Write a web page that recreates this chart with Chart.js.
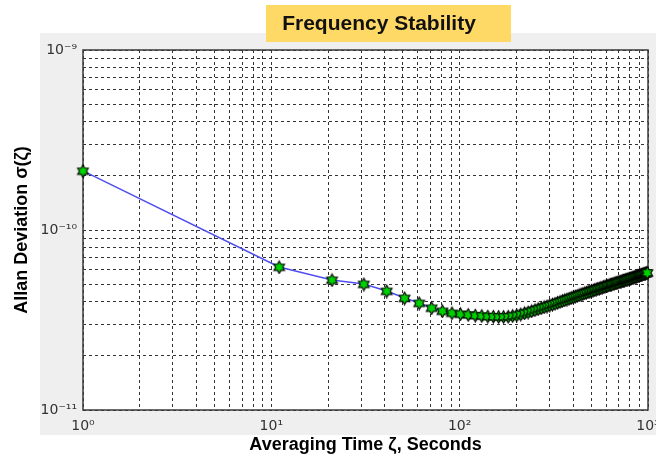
<!DOCTYPE html>
<html><head><meta charset="utf-8">
<script src="https://cdn.jsdelivr.net/npm/chart.js@4.4.1/dist/chart.umd.min.js"></script>
<style>html,body{margin:0;padding:0;background:#fff;overflow:hidden}#wrap{position:relative;width:656px;height:457px}</style>
</head><body><div id="wrap"><canvas id="c" width="656" height="457"></canvas></div>
<script>
// Averaging time tau (s)
const tau = [
  1, 11, 21, 31, 41, 51, 61, 71, 81, 91,
  101, 111, 121, 131, 141, 151, 161, 171, 181, 191,
  201, 211, 221, 231, 241, 251, 261, 271, 281, 291,
  301, 311, 321, 331, 341, 351, 361, 371, 381, 391,
  401, 411, 421, 431, 441, 451, 461, 471, 481, 491,
  501, 511, 521, 531, 541, 551, 561, 571, 581, 591,
  601, 611, 621, 631, 641, 651, 661, 671, 681, 691,
  701, 711, 721, 731, 741, 751, 761, 771, 781, 791,
  801, 811, 821, 831, 841, 851, 861, 871, 881, 891,
  901, 911, 921, 931, 941, 951, 961, 971, 981, 991
];
// Allan deviation sigma(tau)
const sigma = [
  2.13e-10, 6.23e-11, 5.28e-11, 5.01e-11, 4.58e-11, 4.19e-11, 3.93e-11, 3.69e-11, 3.55e-11, 3.46e-11,
  3.42e-11, 3.39e-11, 3.36e-11, 3.34e-11, 3.32e-11, 3.31e-11, 3.30e-11, 3.30e-11, 3.31e-11, 3.34e-11,
  3.37e-11, 3.41e-11, 3.46e-11, 3.50e-11, 3.55e-11, 3.60e-11, 3.65e-11, 3.69e-11, 3.74e-11, 3.78e-11,
  3.83e-11, 3.87e-11, 3.91e-11, 3.96e-11, 4.00e-11, 4.05e-11, 4.09e-11, 4.13e-11, 4.17e-11, 4.21e-11,
  4.25e-11, 4.29e-11, 4.32e-11, 4.36e-11, 4.40e-11, 4.43e-11, 4.47e-11, 4.50e-11, 4.54e-11, 4.57e-11,
  4.60e-11, 4.63e-11, 4.66e-11, 4.70e-11, 4.73e-11, 4.75e-11, 4.78e-11, 4.81e-11, 4.84e-11, 4.87e-11,
  4.90e-11, 4.92e-11, 4.95e-11, 4.98e-11, 5.00e-11, 5.03e-11, 5.06e-11, 5.08e-11, 5.10e-11, 5.13e-11,
  5.15e-11, 5.18e-11, 5.20e-11, 5.23e-11, 5.25e-11, 5.27e-11, 5.30e-11, 5.32e-11, 5.34e-11, 5.36e-11,
  5.39e-11, 5.41e-11, 5.43e-11, 5.46e-11, 5.48e-11, 5.50e-11, 5.52e-11, 5.55e-11, 5.57e-11, 5.59e-11,
  5.61e-11, 5.63e-11, 5.66e-11, 5.68e-11, 5.70e-11, 5.72e-11, 5.74e-11, 5.76e-11, 5.78e-11, 5.80e-11
];
const xTickValues = [1, 10, 100, 1000];
const xTickLabels = ['10⁰', '10¹', '10²', '10³'];
const yTickValues = [1e-11, 1e-10, 1e-9];
const yTickLabels = ['10⁻¹¹', '10⁻¹⁰', '10⁻⁹'];
const chartTitle = 'Frequency Stability';
const xAxisTitle = 'Averaging Time ζ, Seconds';
const yAxisTitle = 'Allan Deviation σ(ζ)';

const FONT = "'Liberation Sans', Arial, 'DejaVu Sans', sans-serif";
const TICK_FONT = "'DejaVu Sans', 'Liberation Sans', Arial, sans-serif";

function logGrid(lo, hi) {
  const out = [];
  for (let e = lo; e < hi; e++) for (let m = 1; m < 10; m++) out.push(m * Math.pow(10, e));
  out.push(Math.pow(10, hi));
  return out;
}
function labelFor(values, labels) {
  return (v) => {
    const i = values.findIndex(t => Math.abs(t - v) / t < 1e-6);
    return i >= 0 ? labels[i] : '';
  };
}

// hexagram marker
function makeMarker() {
  const c = document.createElement('canvas');
  c.width = 15; c.height = 15;
  const g = c.getContext('2d');
  const cx = 7.5, cy = 7.8, R = 6.2, r = R / Math.sqrt(3);
  g.beginPath();
  for (let k = 0; k < 12; k++) {
    const a = -Math.PI / 2 + k * Math.PI / 6;
    const rr = k % 2 === 0 ? R : r;
    const px = cx + rr * Math.cos(a), py = cy + rr * Math.sin(a);
    if (k === 0) g.moveTo(px, py); else g.lineTo(px, py);
  }
  g.closePath();
  g.fillStyle = '#00d000';
  g.fill();
  g.lineWidth = 1.1;
  g.strokeStyle = '#000';
  g.stroke();
  return c;
}

const decor = {
  id: 'decor',
  afterLayout(chart) {
    const t = chart.titleBlock;
    if (t) { const d = 379 - (t.left + t.right) / 2; t.left += d; t.right += d; }
  },
  beforeDraw(chart) {
    const ctx = chart.ctx, a = chart.chartArea;
    ctx.save();
    ctx.fillStyle = '#efefef';
    ctx.fillRect(40, 33, 616, 402);
    ctx.fillStyle = '#ffffff';
    ctx.fillRect(a.left, a.top, a.right - a.left, a.bottom - a.top);
    ctx.fillStyle = '#ffd966';
    ctx.fillRect(266, 5, 245, 37);
    ctx.restore();
  },
  beforeDatasetsDraw(chart) {
    const ctx = chart.ctx, a = chart.chartArea;
    ctx.save();
    ctx.strokeStyle = '#3a3a3a';
    ctx.lineWidth = 1.5;
    ctx.strokeRect(a.left, a.top, a.right - a.left, a.bottom - a.top);
    ctx.restore();
  }
};

const marker = makeMarker();

new Chart(document.getElementById('c'), {
  type: 'line',
  data: {
    datasets: [{
      data: tau.map((t, i) => ({ x: t, y: sigma[i] })),
      borderColor: '#4f4ff0',
      borderWidth: 1.5,
      tension: 0,
      pointStyle: marker,
      pointRadius: 6,
      clip: false
    }]
  },
  options: {
    responsive: false,
    animation: false,
    events: [],
    layout: { padding: { left: 0, top: 0, bottom: 0, right: 8 } },
    plugins: {
      legend: { display: false },
      tooltip: { enabled: false },
      title: {
        display: true,
        text: chartTitle,
        color: '#111',
        font: { family: FONT, size: 21, weight: 'bold' },
        padding: { top: 11.4, bottom: 13.4 }
      }
    },
    scales: {
      x: {
        type: 'logarithmic',
        position: 'bottom',
        min: 1, max: 1000,
        afterBuildTicks: s => { s.ticks = logGrid(0, 3).map(v => ({ value: v })); },
        afterFit: s => { s.height = 47; s.paddingLeft = 0; s.paddingRight = 0; },
        grid: { color: '#333', lineWidth: 1, drawTicks: false },
        border: { display: false, dash: [3, 3] },
        ticks: {
          callback: labelFor(xTickValues, xTickLabels),
          autoSkip: false, maxRotation: 0, minRotation: 0,
          padding: 8, color: '#333',
          font: { family: TICK_FONT, size: 14 }
        },
        title: {
          display: true, text: xAxisTitle, color: '#000',
          font: { family: FONT, size: 18, weight: 'bold' },
          padding: { top: 0, bottom: 1 }
        }
      },
      y: {
        type: 'logarithmic',
        position: 'left',
        min: 1e-11, max: 1e-9,
        afterBuildTicks: s => { s.ticks = logGrid(-11, -9).map(v => ({ value: v })); },
        afterFit: s => { s.width = 83; s.paddingTop = 0; s.paddingBottom = 0; },
        grid: { color: '#333', lineWidth: 1, drawTicks: false },
        border: { display: false, dash: [3, 3] },
        ticks: {
          callback: labelFor(yTickValues, yTickLabels),
          autoSkip: false,
          padding: 6, color: '#333',
          font: { family: TICK_FONT, size: 14 }
        },
        title: {
          display: true, text: yAxisTitle, color: '#000',
          font: { family: FONT, size: 18, weight: 'bold' },
          padding: { top: 11, bottom: 0 }
        }
      }
    }
  },
  plugins: [decor]
});
</script>
</body></html>
